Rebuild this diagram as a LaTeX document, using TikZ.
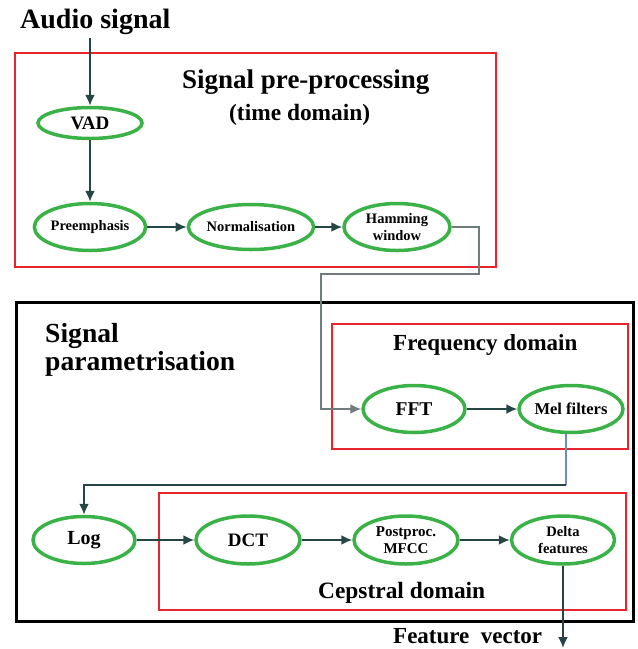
\documentclass[tikz,border=0pt]{standalone}
\usepackage{fontspec}
\setmainfont{Liberation Serif}
\usetikzlibrary{shapes.geometric,arrows.meta}
\definecolor{ovalgreen}{RGB}{58,178,72}
\definecolor{boxred}{RGB}{232,36,44}
\definecolor{flow}{RGB}{38,70,70}
\definecolor{flowgray}{RGB}{112,124,124}
\definecolor{flowblue}{RGB}{108,142,190}
\newcommand{\fs}[2]{\bfseries\fontsize{#1}{#2}\selectfont}
\tikzset{
  stage/.style={ellipse, draw=ovalgreen, line width=3.5pt, inner sep=0pt,
    align=center},
  arr/.style={draw=flow, line width=1.8pt,
    -{Latex[length=11pt,width=10pt]}},
  redbox/.style={draw=boxred, line width=2pt},
  blackbox/.style={draw=black, line width=3pt},
  title/.style={inner sep=0pt, anchor=base west},
}
\begin{document}
\begin{tikzpicture}[x=1pt,y=-1pt]
\useasboundingbox (0,0) rectangle (638,649);

% frames
\draw[redbox] (15,53) rectangle (496,267);
\draw[blackbox] (16,302) rectangle (633,621);
\draw[redbox] (332,324) rectangle (628,449);
\draw[redbox] (159,493) rectangle (626,610);

% headings
\node[title, font=\fs{28}{28}] (audio) at (20,28) {Audio signal};
\node[title, font=\fs{27}{27}] (pretitle) at (182,88) {Signal pre-processing};
\node[title, font=\fs{23.4}{23.4}] (timedom) at (229,120) {(time domain)};
\node[title, font=\fs{27.6}{27.6}] (partitle1) at (45,342) {Signal};
\node[title, font=\fs{27.6}{27.6}] (partitle2) at (45,370) {parametrisation};
\node[title, font=\fs{23}{23}] (freqdom) at (393,350) {Frequency domain};
\node[title, font=\fs{23.4}{23.4}] (cepdom) at (318,598) {Cepstral domain};
\node[title, font=\fs{23}{23}] (featvec) at (393,643) {Feature\ \ vector};

% processing stages
\node[stage, font=\fs{19}{19}, minimum width=104pt, minimum height=31pt] (vad) at (90,123) {VAD};
\node[stage, font=\fs{14.5}{17}, minimum width=104pt, minimum height=47pt] (pre) at (90,227) {Preemphasis};
\node[stage, font=\fs{14.5}{17}, minimum width=100pt, minimum height=45pt] (norm) at (251,227) {Normalisation};
\node[stage, font=\fs{14.5}{17}, minimum width=106pt, minimum height=47pt] (ham) at (397,227) {Hamming\\window};
\node[stage, font=\fs{19.5}{19.5}, minimum width=102pt, minimum height=47pt] (fft) at (414,409) {FFT};
\node[stage, font=\fs{16.5}{16.5}, minimum width=104pt, minimum height=47pt] (mel) at (571,409) {Mel filters};
\node[stage, font=\fs{20}{20}, minimum width=102pt, minimum height=47pt] (log) at (84,540) {Log};
\node[stage, font=\fs{19}{19}, minimum width=104pt, minimum height=48pt] (dct) at (248,540) {DCT};
\node[stage, font=\fs{15}{16.5}, minimum width=104pt, minimum height=48pt] (post) at (406,540) {Postproc.\\MFCC};
\node[stage, font=\fs{14.5}{16.5}, minimum width=103pt, minimum height=48pt] (delta) at (563,540) {Delta\\features};

% routing points
\coordinate (audioout) at (90,38);
\coordinate (h1) at (479,274);
\coordinate (h2) at (321,274);
\coordinate (m1) at (566,485);
\coordinate (fvout) at (563,648);

% connectors
\draw[arr] (audioout) -- (vad.north);
\draw[arr] (vad) -- (pre);
\draw[arr] (pre) -- (norm);
\draw[arr] (norm) -- (ham);
\draw[arr, draw=flowgray] (ham.east) -| (h1) -- (h2) |- (fft.west);
\draw[arr] (fft) -- (mel);
\draw[draw=flowblue, line width=1.8pt] (m1 |- mel.south) -- (m1);
\draw[arr] (m1) -| (log.north);
\draw[arr] (log) -- (dct);
\draw[arr] (dct) -- (post);
\draw[arr] (post) -- (delta);
\draw[arr] (delta.south) -- (fvout);
\end{tikzpicture}
\end{document}
